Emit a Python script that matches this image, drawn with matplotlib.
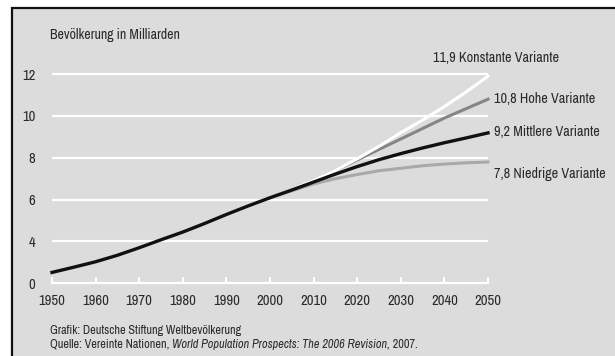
import matplotlib
matplotlib.use('Agg')
import matplotlib.pyplot as plt
from matplotlib.patches import Rectangle

plt.rcParams['font.family'] = ['Archivo Narrow', 'DejaVu Sans']

# Weltbevoelkerung in Milliarden (UN World Population Prospects 2006)
hist_years = [1950, 1955, 1960, 1965, 1970, 1975, 1980, 1985, 1990, 1995, 2000]
hist_pop = [2.52, 2.77, 3.03, 3.34, 3.70, 4.08, 4.45, 4.86, 5.29, 5.70, 6.09]

proj_years = [2000, 2005, 2010, 2015, 2020, 2025, 2030, 2035, 2040, 2045, 2050]
konstant = [6.09, 6.50, 6.93, 7.40, 7.95, 8.55, 9.20, 9.80, 10.45, 11.15, 11.9]
hoch = [6.09, 6.50, 6.93, 7.40, 7.90, 8.40, 8.90, 9.40, 9.90, 10.35, 10.8]
mittel = [6.09, 6.46, 6.84, 7.22, 7.58, 7.91, 8.20, 8.47, 8.72, 8.95, 9.19]
niedrig = [6.09, 6.42, 6.75, 7.00, 7.20, 7.38, 7.50, 7.62, 7.70, 7.76, 7.8]

end_labels = ['11,9 Konstante Variante', '10,8 Hohe Variante',
              '9,2 Mittlere Variante', '7,8 Niedrige Variante']

x_ticks = list(range(1950, 2051, 10))
y_ticks = [2, 4, 6, 8, 10, 12]          # Achse unterbrochen: unterste Linie als 0 beschriftet
y_ticklabels = ['0', '4', '6', '8', '10', '12']

W, H = 615, 356
bg = '#dcdcdc'
txt = '#2a2a2a'

fig = plt.figure(figsize=(W / 100, H / 100), dpi=100, facecolor='white')
# grauer Kasten mit Rand links/oben
fig.patches.append(Rectangle((12 / W, -0.1), 1.2, 1 - 8 / H + 0.1, transform=fig.transFigure,
                             facecolor=bg, edgecolor='#111111', linewidth=1.6, zorder=-10))

ax = fig.add_axes([52 / W, 1 - 283.3 / H, (488 - 52) / W, (283.3 - 53.2) / H])
ax.set_facecolor('none')
ax.set_xlim(1950, 2050)
ax.set_ylim(2, 13)

for v in y_ticks[1:]:
    ax.axhline(v, color='white', lw=1.6, zorder=1)

ax.plot(proj_years, niedrig, color='#a9a9a9', lw=2.2, zorder=3, clip_on=False)
ax.plot(proj_years, hoch, color='#858585', lw=2.2, zorder=4, clip_on=False)
ax.plot(proj_years, konstant, color='white', lw=2.2, zorder=5, clip_on=False)
ax.plot(hist_years + proj_years[1:], hist_pop + mittel[1:], color='#111111', lw=2.4,
        zorder=6, clip_on=False)

for s in ['top', 'right', 'left']:
    ax.spines[s].set_visible(False)
ax.spines['bottom'].set_color('white')
ax.spines['bottom'].set_linewidth(1.6)

ax.set_xticks(x_ticks)
ax.set_xticklabels([str(y) for y in x_ticks])
ax.set_yticks(y_ticks)
ax.set_yticklabels(y_ticklabels)
ax.tick_params(axis='x', direction='in', length=4, width=1.4, color='white',
               labelsize=10.5, labelcolor=txt, pad=8)
ax.tick_params(axis='y', length=0, labelsize=10.5, labelcolor=txt, pad=12)

fig.text(50 / W, 1 - 35 / H, 'Bevölkerung in Milliarden', fontsize=10, color=txt, va='center')

label_pos = [(433, 58), (494, 99), (494, 132), (494, 174)]
for lab, (px, py) in zip(end_labels, label_pos):
    fig.text(px / W, 1 - py / H, lab, fontsize=10.2, color=txt, va='center')

fig.text(50 / W, 1 - 330 / H, 'Grafik: Deutsche Stiftung Weltbevölkerung',
         fontsize=8.8, color=txt, va='center')

# Quellenzeile aus drei Teilen (Titel kursiv)
parts = [('Quelle: Vereinte Nationen, ', 'normal'),
         ('World Population Prospects: The 2006 Revision,', 'italic'),
         (' 2007.', 'normal')]
renderer = fig.canvas.get_renderer()
x0 = 50
for s, style in parts:
    t = fig.text(x0 / W, 1 - 344 / H, s, fontsize=8.8, color=txt, va='center', style=style)
    x0 = t.get_window_extent(renderer).x1

fig.savefig('out.png', dpi=100, facecolor='white')
